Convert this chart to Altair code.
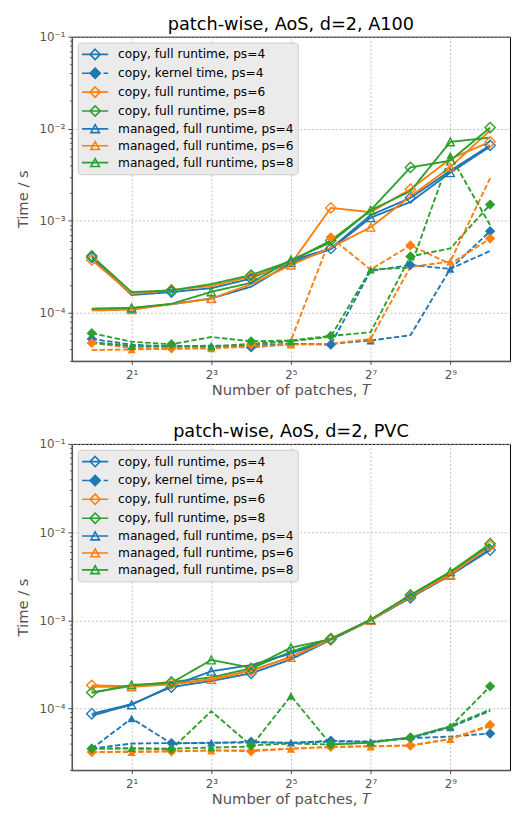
import altair as alt
import pandas as pd

# ---------------- data ----------------
T = [1, 2, 4, 8, 16, 32, 64, 128, 256, 512, 1024]

# A100 panel
a100_copy_full_ps4 = [4.0e-4, 1.56e-4, 1.68e-4, 1.85e-4, 2.35e-4, 3.7e-4, 5.0e-4, 1.15e-3, 1.77e-3, 3.5e-3, 6.6e-3]
a100_copy_full_ps6 = [3.75e-4, 1.6e-4, 1.77e-4, 1.95e-4, 2.48e-4, 3.4e-4, 1.38e-3, 1.24e-3, 2.2e-3, 4.7e-3, 7.2e-3]
a100_copy_full_ps8 = [4.15e-4, 1.68e-4, 1.75e-4, 2.05e-4, 2.57e-4, 3.65e-4, 6.1e-4, 1.3e-3, 3.8e-3, 4.5e-3, 1.03e-2]
a100_managed_full_ps4 = [1.1e-4, 1.12e-4, 1.24e-4, 1.43e-4, 1.92e-4, 3.5e-4, 4.9e-4, 1.08e-3, 1.6e-3, 3.33e-3, 6.4e-3]
a100_managed_full_ps6 = [1.06e-4, 1.08e-4, 1.24e-4, 1.42e-4, 2.05e-4, 3.3e-4, 5.1e-4, 8.5e-4, 1.84e-3, 3.83e-3, 9.6e-3]
a100_managed_full_ps8 = [1.11e-4, 1.13e-4, 1.25e-4, 1.69e-4, 2.12e-4, 3.75e-4, 5.8e-4, 1.3e-3, 2.1e-3, 7.2e-3, 8.0e-3]
a100_copy_kernel_ps4 = [5.2e-5, 4.5e-5, 4.3e-5, 4.35e-5, 4.2e-5, 4.6e-5, 4.5e-5, 2.85e-4, 3.3e-4, 3.0e-4, 7.7e-4]
a100_copy_kernel_ps6 = [4.7e-5, 4.15e-5, 4.1e-5, 4.2e-5, 4.5e-5, 5.0e-5, 6.6e-4, 2.95e-4, 5.4e-4, 3.4e-4, 6.4e-4]
a100_copy_kernel_ps8 = [6.0e-5, 4.85e-5, 4.55e-5, 5.45e-5, 4.9e-5, 5.0e-5, 5.6e-5, 6.15e-5, 4.1e-4, 5.0e-4, 1.5e-3]
a100_managed_kernel_ps4 = [4.8e-5, 4.35e-5, 4.3e-5, 4.4e-5, 4.4e-5, 4.6e-5, 4.6e-5, 5.0e-5, 5.7e-5, 3.0e-4, 4.7e-4]
a100_managed_kernel_ps6 = [3.93e-5, 4.0e-5, 4.05e-5, 4.1e-5, 4.3e-5, 4.5e-5, 4.6e-5, 5.2e-5, 3.15e-4, 3.6e-4, 2.9e-3]
a100_managed_kernel_ps8 = [4.7e-5, 4.35e-5, 4.4e-5, 4.3e-5, 4.6e-5, 4.9e-5, 5.5e-5, 2.95e-4, 3.1e-4, 5.1e-3, 9.0e-4]

# PVC panel
pvc_copy_full_ps4 = [8.7e-5, 1.12e-4, 1.75e-4, 2.05e-4, 2.5e-4, 3.6e-4, 6.0e-4, 1.0e-3, 1.8e-3, 3.25e-3, 6.25e-3]
pvc_copy_full_ps6 = [1.83e-4, 1.78e-4, 1.9e-4, 2.12e-4, 2.68e-4, 3.85e-4, 6.1e-4, 1.0e-3, 1.88e-3, 3.35e-3, 7.0e-3]
pvc_copy_full_ps8 = [1.52e-4, 1.8e-4, 2.0e-4, 2.25e-4, 2.85e-4, 4.4e-4, 6.2e-4, 1.01e-3, 1.94e-3, 3.5e-3, 7.4e-3]
pvc_managed_full_ps4 = [8.3e-5, 1.1e-4, 1.8e-4, 2.64e-4, 3.1e-4, 4.2e-4, 6.0e-4, 1.0e-3, 1.83e-3, 3.24e-3, 6.4e-3]
pvc_managed_full_ps6 = [1.76e-4, 1.76e-4, 1.88e-4, 2.14e-4, 2.7e-4, 3.8e-4, 6.1e-4, 1.0e-3, 1.85e-3, 3.3e-3, 6.9e-3]
pvc_managed_full_ps8 = [1.5e-4, 1.85e-4, 1.95e-4, 3.55e-4, 2.9e-4, 4.9e-4, 6.1e-4, 1.02e-3, 1.92e-3, 3.55e-3, 7.2e-3]
pvc_copy_kernel_ps4 = [3.5e-5, 4.0e-5, 4.05e-5, 4.05e-5, 4.2e-5, 4.05e-5, 4.3e-5, 4.2e-5, 4.6e-5, 4.8e-5, 5.2e-5]
pvc_copy_kernel_ps6 = [3.2e-5, 3.25e-5, 3.27e-5, 3.35e-5, 3.27e-5, 3.5e-5, 3.66e-5, 3.75e-5, 3.8e-5, 4.5e-5, 6.5e-5]
pvc_copy_kernel_ps8 = [3.5e-5, 3.5e-5, 3.45e-5, 9.3e-5, 3.8e-5, 4.0e-5, 3.9e-5, 4.1e-5, 4.7e-5, 6.2e-5, 1.78e-4]
pvc_managed_kernel_ps4 = [3.5e-5, 7.7e-5, 4.0e-5, 4.1e-5, 4.1e-5, 4.1e-5, 4.2e-5, 4.2e-5, 4.6e-5, 6.1e-5, 9.4e-5]
pvc_managed_kernel_ps6 = [3.2e-5, 3.2e-5, 3.25e-5, 3.33e-5, 3.35e-5, 3.49e-5, 3.66e-5, 3.7e-5, 3.8e-5, 4.49e-5, 6.3e-5]
pvc_managed_kernel_ps8 = [3.5e-5, 3.56e-5, 3.5e-5, 3.6e-5, 3.7e-5, 1.39e-4, 3.9e-5, 4.1e-5, 4.7e-5, 6.3e-5, 9.7e-5]

PS_VALUES = ["4", "6", "8"]
PS_COLORS = ["#1f77b4", "#ff7f0e", "#2ca02c"]
COPY_MARKER_IDX = [0, 2, 4, 6, 8, 10]      # diamonds
MANAGED_MARKER_IDX = [1, 3, 5, 7, 9]       # triangles

TITLES = ["patch-wise, AoS, d=2, A100", "patch-wise, AoS, d=2, PVC"]
Y_MIN = [3.0e-5, 2.0e-5]
Y_MAX = 0.1
X_DOMAIN = [2 ** -0.5, 2 ** 10.5]
X_TICKS = [2, 8, 32, 128, 512]
X_TICK_LABELS = ["2\u00b9", "2\u00b3", "2\u2075", "2\u2077", "2\u2079"]
Y_MAJOR = [0.1, 0.01, 0.001, 0.0001]
Y_MAJOR_LABELS = ["10\u207b\u00b9", "10\u207b\u00b2", "10\u207b\u00b3", "10\u207b\u2074"]

LEGEND_LABELS = [
    "copy, full runtime, ps=4",
    "copy, kernel time, ps=4",
    "copy, full runtime, ps=6",
    "copy, full runtime, ps=8",
    "managed, full runtime, ps=4",
    "managed, full runtime, ps=6",
    "managed, full runtime, ps=8",
]
LEGEND_COLORS = ["#1f77b4", "#1f77b4", "#ff7f0e", "#2ca02c", "#1f77b4", "#ff7f0e", "#2ca02c"]
LEGEND_FILLS = ["transparent", "#1f77b4", "transparent", "transparent", "transparent", "transparent", "transparent"]

# legend glyphs (line + marker), unit = 7px
DIA = "M0,-0.75L0.75,0L0,0.75L-0.75,0Z"
TRI = "M0,-0.6L0.62,0.55L-0.62,0.55Z"
SOLID = "M-1.91,0L1.9,0"
DASHED = "M-1.91,0L-0.81,0M1.23,0L1.9,0"
LEGEND_SHAPES = [SOLID + DIA, DASHED + DIA, SOLID + DIA, SOLID + DIA, SOLID + TRI, SOLID + TRI, SOLID + TRI]

panels = [
    {
        ("copy", "full", "4"): a100_copy_full_ps4,
        ("copy", "kernel", "4"): a100_copy_kernel_ps4,
        ("copy", "full", "6"): a100_copy_full_ps6,
        ("copy", "kernel", "6"): a100_copy_kernel_ps6,
        ("copy", "full", "8"): a100_copy_full_ps8,
        ("copy", "kernel", "8"): a100_copy_kernel_ps8,
        ("managed", "full", "4"): a100_managed_full_ps4,
        ("managed", "kernel", "4"): a100_managed_kernel_ps4,
        ("managed", "full", "6"): a100_managed_full_ps6,
        ("managed", "kernel", "6"): a100_managed_kernel_ps6,
        ("managed", "full", "8"): a100_managed_full_ps8,
        ("managed", "kernel", "8"): a100_managed_kernel_ps8,
    },
    {
        ("copy", "full", "4"): pvc_copy_full_ps4,
        ("copy", "kernel", "4"): pvc_copy_kernel_ps4,
        ("copy", "full", "6"): pvc_copy_full_ps6,
        ("copy", "kernel", "6"): pvc_copy_kernel_ps6,
        ("copy", "full", "8"): pvc_copy_full_ps8,
        ("copy", "kernel", "8"): pvc_copy_kernel_ps8,
        ("managed", "full", "4"): pvc_managed_full_ps4,
        ("managed", "kernel", "4"): pvc_managed_kernel_ps4,
        ("managed", "full", "6"): pvc_managed_full_ps6,
        ("managed", "kernel", "6"): pvc_managed_kernel_ps6,
        ("managed", "full", "8"): pvc_managed_full_ps8,
        ("managed", "kernel", "8"): pvc_managed_kernel_ps8,
    },
]

FONT = "DejaVu Sans"
GRAY = "#555555"


def make_df(series):
    rows = []
    order = 0
    for (method, kind, ps), vals in series.items():
        idx = COPY_MARKER_IDX if method == "copy" else MANAGED_MARKER_IDX
        for i, (t, v) in enumerate(zip(T, vals)):
            rows.append(dict(T=t, time=v, method=method, kind=kind, ps=ps,
                             series=f"{order:02d}-{method}-{kind}-{ps}",
                             mark=1 if i in idx else 0))
        order += 1
    return pd.DataFrame(rows)


def y_axis_values(ymin):
    vals = []
    for k in range(-6, -1):
        for m in range(1, 10):
            v = float(f"{m}e{k}")
            if ymin <= v <= Y_MAX and v not in Y_MAJOR:
                vals.append(v)
    return sorted(vals + Y_MAJOR)


major_test = " || ".join(f"datum.value == {v}" for v in Y_MAJOR)
y_label_expr = " : ".join(f"datum.value == {v} ? '{l}'" for v, l in zip(Y_MAJOR, Y_MAJOR_LABELS)) + " : ''"
x_label_expr = " : ".join(f"datum.value == {v} ? '{l}'" for v, l in zip(X_TICKS, X_TICK_LABELS)) + " : ''"


def panel(k, height):
    df = make_df(panels[k])
    x_scale = alt.Scale(type="log", base=2, domain=X_DOMAIN, nice=False)
    y_scale = alt.Scale(type="log", domain=[Y_MIN[k], Y_MAX], nice=False)
    x = alt.X("T:Q", scale=x_scale,
              axis=alt.Axis(values=X_TICKS, labelExpr=x_label_expr,
                            title="Number of patches, \U0001D447",
                            grid=True, gridDash=[2, 2], gridColor="#b0b0b0", gridWidth=0.8,
                            tickSize=3.5, tickColor="#444444", labelColor=GRAY,
                            labelFont=FONT, labelFontSize=12, labelPadding=5,
                            titleFont=FONT, titleFontSize=15, titleColor=GRAY,
                            titleFontWeight="normal", titlePadding=3,
                            domainColor="#555555", domainWidth=1.5, labelFlush=False))
    y = alt.Y("time:Q", scale=y_scale,
              axis=alt.Axis(values=y_axis_values(Y_MIN[k]), labelExpr=y_label_expr,
                            title="Time / s",
                            grid=True, gridDash=[2, 2], gridColor="#b0b0b0", gridWidth=0.8,
                            gridOpacity={"condition": {"test": major_test, "value": 1}, "value": 0},
                            tickSize={"condition": {"test": major_test, "value": 4}, "value": 2.2},
                            tickColor="#444444", labelColor=GRAY,
                            labelFont=FONT, labelFontSize=12, labelPadding=3,
                            titleFont=FONT, titleFontSize=15, titleColor=GRAY,
                            titleFontWeight="normal", titlePadding=9,
                            domainColor="#555555", domainWidth=1.5, labelFlush=False))
    color = alt.Color("ps:N", scale=alt.Scale(domain=PS_VALUES, range=PS_COLORS), legend=None)
    base = alt.Chart(df)

    lines = base.mark_line(strokeWidth=1.9).encode(
        x=x, y=y, color=color, detail="series:N",
        strokeDash=alt.StrokeDash("kind:N", scale=alt.Scale(domain=["full", "kernel"],
                                                            range=[[1, 0], [5.5, 2.4]]), legend=None))

    def pts(method, kind, shape, size):
        filled = kind == "kernel"
        return base.transform_filter(
            (alt.datum.mark == 1) & (alt.datum.method == method) & (alt.datum.kind == kind)
        ).mark_point(shape=shape, size=size, filled=filled, opacity=1,
                     strokeWidth=1.4).encode(x=x, y=y, color=color)

    layers = [lines,
              pts("copy", "full", "diamond", 110),
              pts("copy", "kernel", "diamond", 110),
              pts("managed", "full", "M0,-0.95L-1,0.95L1,0.95Z", 70),
              pts("managed", "kernel", "M0,-0.95L-1,0.95L1,0.95Z", 70)]

    leg_df = pd.DataFrame({"label": LEGEND_LABELS, "T": [None] * 7, "time": [None] * 7})
    leg_common = dict(title=None, orient="top-left", offset=6, padding=4,
                      fillColor="#ebebeb", strokeColor="#cccccc", cornerRadius=3,
                      symbolSize=196, symbolStrokeWidth=1.6, symbolOffset=5.7,
                      labelOffset=15.3, labelLimit=400, labelFont=FONT, labelFontSize=12.4,
                      labelColor="black", rowPadding=1.2, symbolOpacity=1)
    leg = alt.Chart(leg_df).mark_point(opacity=1, size=196, strokeWidth=1.6).encode(
        x=x, y=y,
        shape=alt.Shape("label:N", scale=alt.Scale(domain=LEGEND_LABELS, range=LEGEND_SHAPES),
                        legend=alt.Legend(**leg_common)),
        stroke=alt.Stroke("label:N", scale=alt.Scale(domain=LEGEND_LABELS, range=LEGEND_COLORS),
                          legend=alt.Legend(**leg_common)),
        fill=alt.Fill("label:N", scale=alt.Scale(domain=LEGEND_LABELS, range=LEGEND_FILLS),
                      legend=alt.Legend(**leg_common)),
    )
    layers.append(leg)

    return alt.layer(*layers).properties(
        width=446, height=height,
        title=alt.TitleParams(TITLES[k], font=FONT, fontSize=18, fontWeight="normal",
                              color="black", offset=-3.2, frame="group"),
    )


top = panel(0, 330)
bottom = panel(1, 332)

chart = alt.vconcat(top, bottom, spacing=24.5).resolve_scale(
    y="independent", stroke="independent", fill="independent", shape="independent"
).resolve_legend(
    stroke="independent", fill="independent", shape="independent"
).properties(
    padding={"left": 7, "top": 0, "right": 0, "bottom": 0}
).configure_view(stroke="black", strokeWidth=1)

chart.save("out.html", embed_options={"renderer": "svg", "actions": False})
